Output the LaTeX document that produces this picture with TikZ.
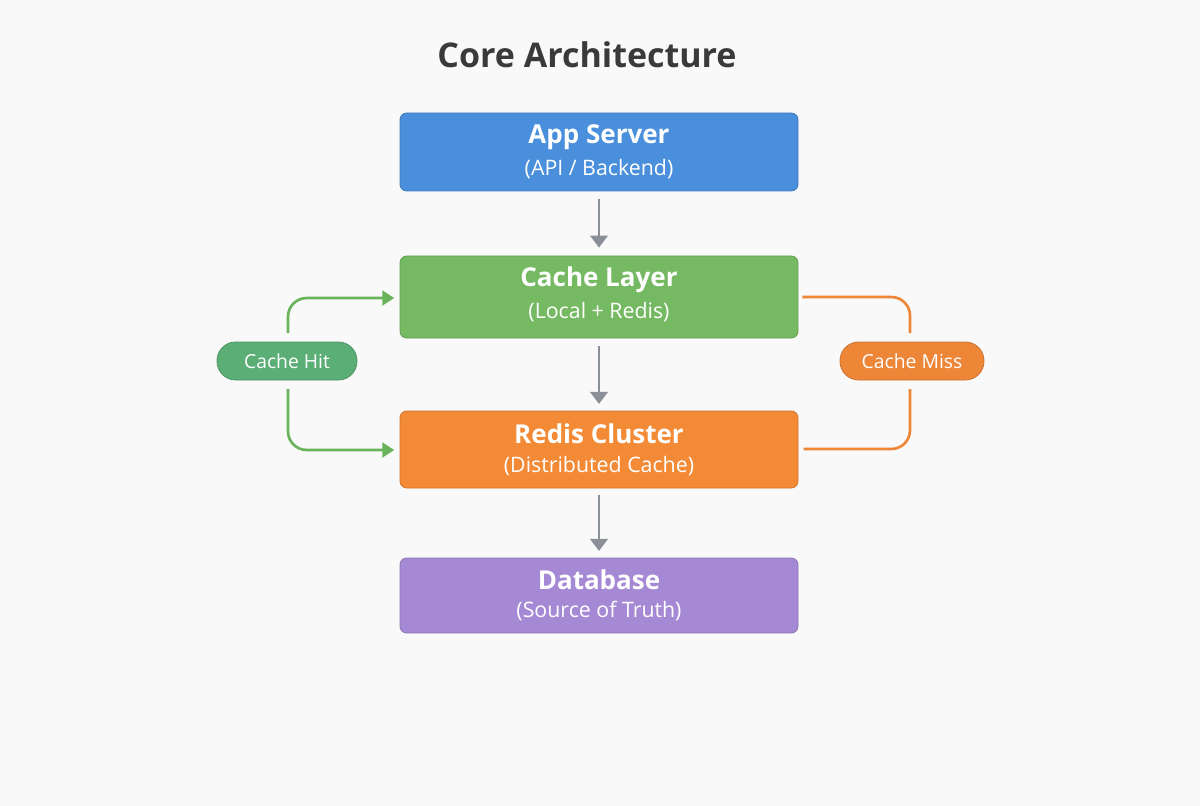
\documentclass[tikz,border=0pt]{standalone}
\usepackage{fontspec}
\setmainfont{Open Sans}
\usetikzlibrary{arrows.meta}
\definecolor{bg}{HTML}{F9F9F9}
\definecolor{titlec}{HTML}{3A3A3A}
\definecolor{blueb}{HTML}{4A8FDB}
\definecolor{greenb}{HTML}{76B963}
\definecolor{orangeb}{HTML}{F28A36}
\definecolor{purpleb}{HTML}{A689D4}
\definecolor{hitc}{HTML}{5AAE76}
\definecolor{hitline}{HTML}{69B45A}
\definecolor{missc}{HTML}{EE8638}
\definecolor{arrowc}{HTML}{8A8F98}
\tikzset{
  layer/.style={draw=#1!85!black, line width=0.6pt, fill=#1, rounded corners=5pt,
    minimum width=398*0.75pt, text=white, align=center, inner sep=0pt},
  pill/.style={draw=#1!85!black, line width=0.6pt, fill=#1, rounded corners=14pt,
    minimum width=140*0.75pt, minimum height=38*0.75pt, text=white, font=\fontsize{14.5}{16}\selectfont},
  flow/.style={draw=arrowc, line width=2.2pt, -{Triangle[length=9pt,width=13pt]}},
  hit/.style={draw=hitline, line width=2pt, rounded corners=14pt, -{Triangle[length=9pt,width=11pt]}},
  miss/.style={draw=missc, line width=2pt, rounded corners=14pt},
  big/.style={font=\fontsize{19.5}{23}\selectfont\bfseries},
  small/.style={font=\fontsize{16}{19}\selectfont}
}
\begin{document}
\begin{tikzpicture}[x=0.75pt,y=-0.75pt]
\fill[bg] (0,0) rectangle (1200,806);
\useasboundingbox (0,0) rectangle (1200,806);
\node[text=titlec, font=\fontsize{25.5}{30}\selectfont\bfseries] (title) at (587,55) {Core Architecture};

\node[layer=blueb, minimum height=78*0.75pt] (app) at (599,152) {};
\node[big, text=white] (appt) at (599,137) {App Server};
\node[small, text=white] (apps) at (599,169) {(API / Backend)};

\node[layer=greenb, minimum height=82*0.75pt] (cache) at (599,297) {};
\node[big, text=white] (cachet) at (599,280) {Cache Layer};
\node[small, text=white] (caches) at (599,312) {(Local + Redis)};

\node[layer=orangeb, minimum height=77*0.75pt] (redis) at (599,449.5) {};
\node[big, text=white] (redist) at (599,434) {Redis Cluster};
\node[small, text=white] (rediss) at (599,466) {(Distributed Cache)};

\node[layer=purpleb, minimum height=75*0.75pt] (db) at (599,595.5) {};
\node[big, text=white] (dbt) at (599,580) {Database};
\node[small, text=white] (dbs) at (599,611) {(Source of Truth)};

\node[pill=hitc] (hitp) at (287,361) {Cache Hit};
\node[pill=missc, minimum width=144*0.75pt] (missp) at (912,361) {Cache Miss};

\draw[flow] ([yshift=-6pt]app.south) -- ([yshift=6pt]cache.north);
\draw[flow] ([yshift=-6pt]cache.south) -- ([yshift=5pt]redis.north);
\draw[flow] ([yshift=-5pt]redis.south) -- ([yshift=5pt]db.north);

\coordinate (h1) at (288,333);
\coordinate (h2) at (288,389);
\draw[hit] (h1) -- (288,298) -- ([xshift=-4pt]cache.west |- 0,298);
\draw[hit] (h2) -- (288,450) -- ([xshift=-4pt]redis.west |- 0,450);

\coordinate (m1) at (910,333);
\coordinate (m2) at (910,389);
\draw[miss] ([xshift=3pt]cache.east |- 0,297) -- (910,297) -- (m1);
\draw[miss] ([xshift=4pt]redis.east |- 0,449) -- (910,449) -- (m2);
\end{tikzpicture}
\end{document}
